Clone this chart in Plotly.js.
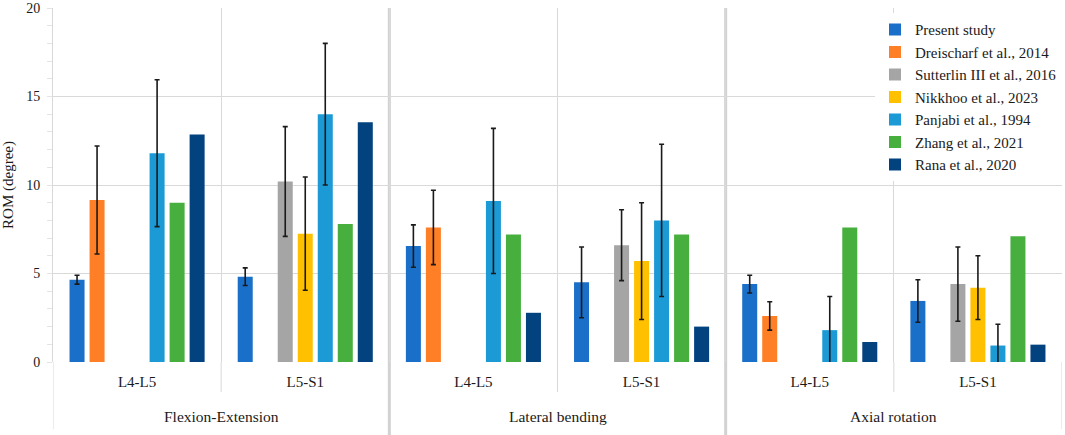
<!DOCTYPE html>
<html>
<head>
<meta charset="utf-8">
<script src="https://cdn.plot.ly/plotly-3.0.1.min.js"></script>
<style>
  html, body { margin: 0; padding: 0; background: #ffffff; }
  #chart { width: 1065px; height: 435px; }
</style>
</head>
<body>
<div id="chart"></div>
<script>
// ---- data ----
var motions = ['Flexion-Extension', 'Flexion-Extension', 'Lateral bending', 'Lateral bending', 'Axial rotation', 'Axial rotation'];
var levels = ['L4-L5', 'L5-S1', 'L4-L5', 'L5-S1', 'L4-L5', 'L5-S1'];

var seriesNames = ['Present study', 'Dreischarf et al., 2014', 'Sutterlin III et al., 2016', 'Nikkhoo et al., 2023', 'Panjabi et al., 1994', 'Zhang et al., 2021', 'Rana et al., 2020'];

var presentStudy = [4.65, 4.82, 6.55, 4.5, 4.4, 3.45];
var presentStudySD = [0.25, 0.5, 1.2, 2.0, 0.5, 1.2];
var dreischarf = [9.15, null, 7.6, null, 2.6, null];
var dreischarfSD = [3.05, null, 2.1, null, 0.8, null];
var sutterlin = [null, 10.2, null, 6.6, null, 4.4];
var sutterlinSD = [null, 3.1, null, 2.0, null, 2.1];
var nikkhoo = [null, 7.25, null, 5.7, null, 4.2];
var nikkhooSD = [null, 3.2, null, 3.3, null, 1.8];
var panjabi = [11.8, 14.0, 9.1, 8.0, 1.8, 0.93];
var panjabiSD = [4.15, 4.0, 4.1, 4.3, 1.9, 1.2];
var zhang = [9.0, 7.8, 7.2, 7.2, 7.6, 7.1];
var rana = [12.85, 13.55, 2.78, 2.0, 1.13, 0.98];

var yTickVals = [0, 5, 10, 15, 20];

// ---- derived categories ----
var categories = motions.map(function (m, i) { return m + ' | ' + levels[i]; });
var motionGroups = [];
motions.forEach(function (m, i) {
  var last = motionGroups[motionGroups.length - 1];
  if (last && last.name === m) { last.end = i; }
  else { motionGroups.push({ name: m, start: i, end: i }); }
});

// ---- styling ----
var colors = ['#1a6fc8', '#ff7f26', '#a5a5a5', '#ffc000', '#1b9ad6', '#46af3e', '#02427e'];
var values = [presentStudy, dreischarf, sutterlin, nikkhoo, panjabi, zhang, rana];
var sds = [presentStudySD, dreischarfSD, sutterlinSD, nikkhooSD, panjabiSD, null, null];
var FONT = '"Liberation Serif", "Times New Roman", serif';
var TEXT = '#1a1a1a';

var traces = values.map(function (v, i) {
  var t = {
    type: 'bar',
    name: seriesNames[i],
    x: categories,
    y: v,
    marker: { color: colors[i], line: { width: 0 } },
    hoverinfo: 'y+name'
  };
  if (sds[i]) {
    t.error_y = { type: 'data', array: sds[i], visible: true, color: '#1a1a1a', thickness: 1.6, width: 2.5 };
  }
  return t;
});

var gridColor = '#d9d9d9';
var sepColor = '#d2d2d2';

var shapes = [];
var annotations = [];
motionGroups.forEach(function (g, gi) {
  annotations.push({
    xref: 'x', yref: 'paper', x: (g.start + g.end) / 2, y: 0,
    yanchor: 'middle', yshift: -54, showarrow: false,
    text: g.name, font: { family: FONT, size: 15.5, color: TEXT }
  });
  if (gi < motionGroups.length - 1) {
    shapes.push({ type: 'line', xref: 'x', yref: 'paper', x0: g.end + 0.5, x1: g.end + 0.5, y0: -0.21, y1: 1,
      line: { color: sepColor, width: 3 }, layer: 'below' });
  }
  for (var k = g.start; k < g.end; k++) {
    shapes.push({ type: 'line', xref: 'x', yref: 'paper', x0: k + 0.5, x1: k + 0.5, y0: -0.085, y1: 0,
      line: { color: gridColor, width: 1 }, layer: 'below' });
  }
});
[-0.5, categories.length - 0.5].forEach(function (xv) {
  shapes.push({ type: 'line', xref: 'x', yref: 'paper', x0: xv, x1: xv, y0: -0.19, y1: 0,
    line: { color: gridColor, width: 1 }, layer: 'below' });
});

var layout = {
  width: 1065,
  height: 435,
  margin: { l: 53, r: 3, t: 8, b: 73 },
  paper_bgcolor: '#ffffff',
  plot_bgcolor: '#ffffff',
  font: { family: FONT, size: 15, color: TEXT },
  barmode: 'group',
  bargap: 0.167,
  bargroupgap: 0.25,
  showlegend: true,
  legend: {
    x: 1, y: 0.985, xanchor: 'right', yanchor: 'top',
    bgcolor: '#ffffff', borderwidth: 0,
    font: { family: FONT, size: 15, color: TEXT },
    itemwidth: 30, tracegroupgap: 0
  },
  xaxis: {
    type: 'category',
    range: [-0.5, categories.length - 0.5],
    tickvals: categories,
    ticktext: levels,
    showgrid: true,
    gridcolor: gridColor,
    tickson: 'boundaries',
    ticks: '',
    showline: false,
    zeroline: false,
    ticklabelstandoff: 9,
    tickfont: { family: FONT, size: 15, color: TEXT }
  },
  yaxis: {
    range: [0, 20],
    tickvals: yTickVals,
    ticktext: yTickVals.map(String),
    showgrid: true,
    gridcolor: gridColor,
    gridwidth: 1,
    zeroline: false,
    showline: true,
    linecolor: gridColor,
    linewidth: 1,
    ticks: '',
    ticklabelstandoff: 9,
    minor: { dtick: 1, ticks: 'outside', ticklen: 5, tickcolor: '#e4e4e4', showgrid: false },
    tickfont: { family: FONT, size: 14, color: TEXT },
    title: { text: 'ROM (degree)', font: { family: FONT, size: 15, color: TEXT }, standoff: 11 }
  },
  shapes: shapes,
  annotations: annotations
};

Plotly.newPlot('chart', traces, layout, { displayModeBar: false, staticPlot: true });
</script>
</body>
</html>
